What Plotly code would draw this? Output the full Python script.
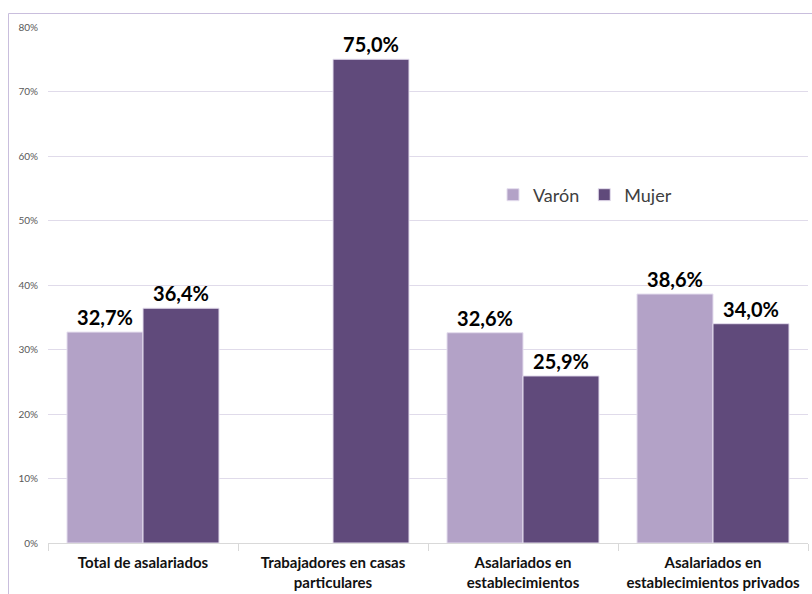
import plotly.graph_objects as go

categories = ["Total de asalariados", "Trabajadores en casas<br>particulares",
              "Asalariados en<br>establecimientos", "Asalariados en<br>establecimientos privados"]
varon = [32.7, None, 32.6, 38.6]
mujer = [36.4, 75.0, 25.9, 34.0]
y_ticks = [0, 10, 20, 30, 40, 50, 60, 70, 80]
y_tick_labels = ["0%", "10%", "20%", "30%", "40%", "50%", "60%", "70%", "80%"]

W, H = 812, 594
ml, mr, mt, mb = 48, 4, 27, 51
pw, ph = W - ml - mr, H - mt - mb

def px_x(p):
    return (p - ml) / pw

def px_y(p):
    return (H - mb - p) / ph

label_font = dict(family="Lato", size=20, color="#000000", weight="bold")

fig = go.Figure()
fig.add_trace(go.Bar(
    name="Varón", x=categories, y=varon,
    marker=dict(color="#B3A2C7", line=dict(color="#E4DDEE", width=1)),
    texttemplate="%{y:.1f}%", textposition="outside", cliponaxis=False,
    textfont=label_font,
))
fig.add_trace(go.Bar(
    name="Mujer", x=categories, y=mujer,
    marker=dict(color="#604A7B", line=dict(color="#E4DDEE", width=1)),
    texttemplate="%{y:.1f}%", textposition="outside", cliponaxis=False,
    textfont=label_font,
))

fig.update_layout(
    width=W, height=H,
    margin=dict(l=ml, r=mr, t=mt, b=mb, pad=0),
    paper_bgcolor="white", plot_bgcolor="white",
    barmode="group", bargap=0.2, bargroupgap=0,
    separators=",.",
    font=dict(family="Lato", color="#595959"),
    legend=dict(orientation="h", x=px_x(493), y=px_y(195), yanchor="middle", xanchor="left",
                font=dict(family="Lato", size=18, color="#404040"),
                bgcolor="rgba(0,0,0,0)", itemwidth=30),
)
fig.update_xaxes(
    showline=True, linecolor="#D9D9D9", linewidth=1,
    ticks="outside", tickson="boundaries", ticklen=7, tickcolor="#D9D9D9",
    tickfont=dict(family="Lato", size=15, color="#111111", weight="bold"),
    ticklabelstandoff=6,
    showgrid=False,
)
fig.update_yaxes(
    range=[0, 80], tickvals=y_ticks, ticktext=y_tick_labels,
    showgrid=True, gridcolor="#E0DBEA", gridwidth=1,
    zeroline=False, showline=False,
    tickfont=dict(family="Lato", size=10, color="#595959"),
    ticklabelstandoff=9,
)
fig.add_shape(type="rect", xref="paper", yref="paper",
              x0=px_x(8.5), y0=px_y(620), x1=px_x(840), y1=px_y(13.5),
              line=dict(color="#C9BEDD", width=1), fillcolor="rgba(0,0,0,0)", layer="below")

fig.write_html("out.html")
